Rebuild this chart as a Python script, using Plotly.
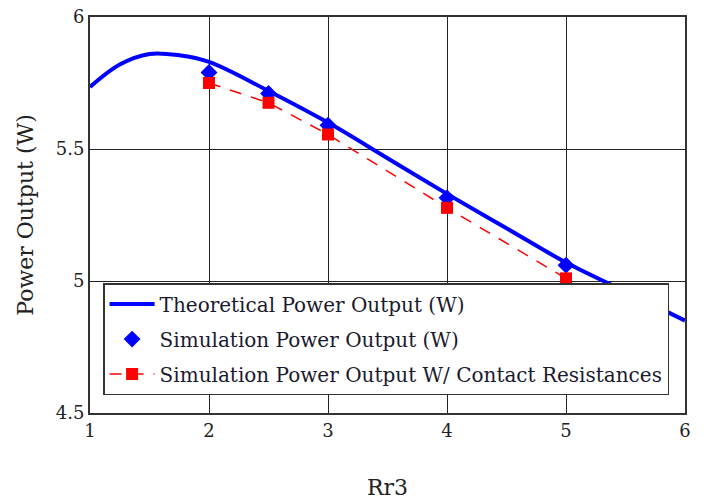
import plotly.graph_objects as go

# Theoretical curve
theo_x = [1.0, 1.25, 1.5, 1.75, 2.0, 2.5, 3.0, 3.5, 4.0, 4.5, 5.0, 5.5, 6.0]
theo_y = [5.735, 5.82, 5.86, 5.855, 5.83, 5.72, 5.60, 5.465, 5.33, 5.20, 5.07, 4.96, 4.85]

# Simulation points
sim_x = [2, 2.5, 3, 4, 5]
sim_y = [5.79, 5.71, 5.59, 5.315, 5.06]

# Simulation with contact resistances
simc_x = [2, 2.5, 3, 4, 5]
simc_y = [5.75, 5.675, 5.555, 5.277, 5.01]

x_ticks = [1, 2, 3, 4, 5, 6]
y_ticks = [4.5, 5, 5.5, 6]
y_tick_text = ["4.5", "5", "5.5", "6"]

FONT = "DejaVu Serif"

fig = go.Figure()
fig.add_trace(go.Scatter(x=theo_x, y=theo_y, mode="lines", line=dict(color="#0000ff", width=4, shape="spline"),
                         name="Theoretical Power Output (W)", legendgroup="a"))
fig.add_trace(go.Scatter(x=sim_x, y=sim_y, mode="markers", marker=dict(symbol="diamond", color="#0000ff", size=13),
                         name="Simulation Power Output (W)", legendgroup="b"))
fig.add_trace(go.Scatter(x=simc_x, y=simc_y, mode="lines+markers",
                         line=dict(color="#ff0000", width=1.5, dash="12px,10px"),
                         marker=dict(symbol="square", color="#ff0000", size=12),
                         name="Simulation Power Output W/ Contact Resistances", legendgroup="c"))

fig.update_layout(
    width=706, height=501,
    margin=dict(l=90, r=21, t=17, b=88),
    paper_bgcolor="white", plot_bgcolor="white",
    font=dict(family=FONT, color="#222", size=18),
    showlegend=True,
    legend=dict(x=0.022, y=0.328, xanchor="left", yanchor="top",
                bgcolor="white", bordercolor="#333", borderwidth=1.5,
                font=dict(family=FONT, size=20, color="#1a1a2e"),
                traceorder="grouped", tracegroupgap=6, itemwidth=45),
    xaxis=dict(range=[1, 6], tickvals=x_ticks, showgrid=True, gridcolor="#222", gridwidth=1,
               showline=True, linecolor="#333", linewidth=2, mirror=True, zeroline=False,
               ticks="", tickfont=dict(size=18, family=FONT), automargin=False,
               title=dict(text="Rr3", font=dict(size=22, family=FONT), standoff=40)),
    yaxis=dict(range=[4.5, 6], tickvals=y_ticks, ticktext=y_tick_text, showgrid=True, gridcolor="#222", gridwidth=1,
               showline=True, linecolor="#333", linewidth=2, mirror=True, zeroline=False,
               ticks="", tickfont=dict(size=18, family=FONT), automargin=False,
               title=dict(text="Power Output (W)", font=dict(size=22, family=FONT), standoff=16)),
)

fig.write_html("out.html")
